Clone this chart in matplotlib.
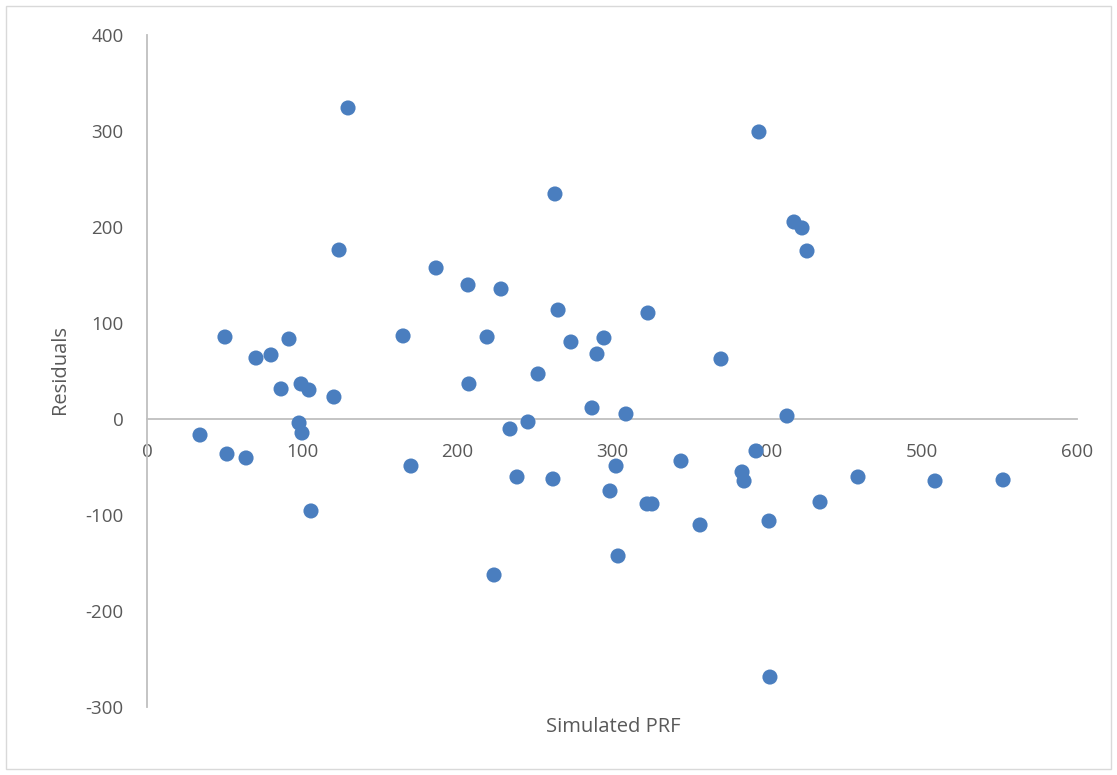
import matplotlib
matplotlib.use("Agg")
import matplotlib.pyplot as plt
from matplotlib.patches import Rectangle

simulated_prf = [34.2, 50.3, 51.6, 63.9, 70.3, 80.0, 86.5, 91.6, 99.4, 98.1,
                 100.0, 104.5, 105.8, 120.6, 123.9, 129.7, 165.2, 170.3, 186.5, 207.1,
                 207.7, 219.4, 223.9, 228.4, 234.2, 238.7, 245.8, 252.3, 261.9, 263.2,
                 265.2, 273.5, 287.1, 290.3, 294.8, 298.7, 302.6, 303.9, 309.0, 322.6,
                 325.8, 323.2, 344.5, 356.8, 370.3, 383.9, 385.2, 392.9, 394.8, 401.3,
                 401.9, 412.9, 417.4, 422.6, 425.8, 434.2, 458.7, 508.4, 552.3]
residuals = [-16.7, 85.4, -36.5, -40.6, 63.5, 66.7, 31.3, 83.3, 36.5, -4.2,
             -14.6, 30.2, -95.8, 22.9, 176.0, 324.0, 86.5, -49.0, 157.3, 139.6,
             36.5, 85.4, -162.5, 135.4, -10.4, -60.4, -3.1, 46.9, -62.5, 234.4,
             113.5, 80.2, 11.5, 67.7, 84.4, -75.0, -49.0, -142.7, 5.2, -88.5,
             -88.5, 110.4, -43.8, -110.4, 62.5, -55.2, -64.6, -33.3, 299.0, -106.3,
             -268.8, 3.1, 205.2, 199.0, 175.0, -86.5, -60.4, -64.6, -63.5]
x_ticks = [0, 100, 200, 300, 400, 500, 600]
y_ticks = [-300, -200, -100, 0, 100, 200, 300, 400]

plt.rcParams['font.family'] = ['Open Sans', 'DejaVu Sans']
plt.rcParams['axes.unicode_minus'] = False
text_color = '#595959'
axis_color = '#BFBFBF'

fig = plt.figure(figsize=(11.17, 7.75), dpi=100)
ax = fig.add_axes([147/1117, 1 - 707/775, 930/1117, (707 - 35)/775])

ax.scatter(simulated_prf, residuals, s=118, color='#4A7EBF', edgecolors='none', zorder=3)

ax.set_xlim(0, 600)
ax.set_ylim(-300, 400)
ax.set_xticks(x_ticks)
ax.set_yticks(y_ticks)

for side in ['top', 'right']:
    ax.spines[side].set_visible(False)
ax.spines['bottom'].set_position(('data', 0))
ax.spines['bottom'].set_color(axis_color)
ax.spines['left'].set_color(axis_color)
ax.spines['bottom'].set_linewidth(1.3)
ax.spines['left'].set_linewidth(1.3)
ax.spines['bottom'].set_zorder(2)
ax.spines['left'].set_zorder(2)

ax.tick_params(axis='x', length=0, pad=17, labelsize=13.5, labelcolor=text_color)
ax.tick_params(axis='y', length=0, pad=17, labelsize=13.5, labelcolor=text_color)
for lbl in ax.get_xticklabels() + ax.get_yticklabels():
    lbl.set_zorder(5)

fig.text(613/1117, 1 - 727/775, 'Simulated PRF', ha='center', va='center',
         fontsize=14.5, color=text_color)
fig.text(60/1117, 1 - 370/775, 'Residuals', ha='center', va='center',
         rotation=90, fontsize=14.5, color=text_color)

fig.patches.append(Rectangle((6/1117, 6/775), 1105/1117, 763/775, transform=fig.transFigure,
                             fill=False, edgecolor='#D9D9D9', linewidth=1))

fig.savefig('out.png', dpi=100)
